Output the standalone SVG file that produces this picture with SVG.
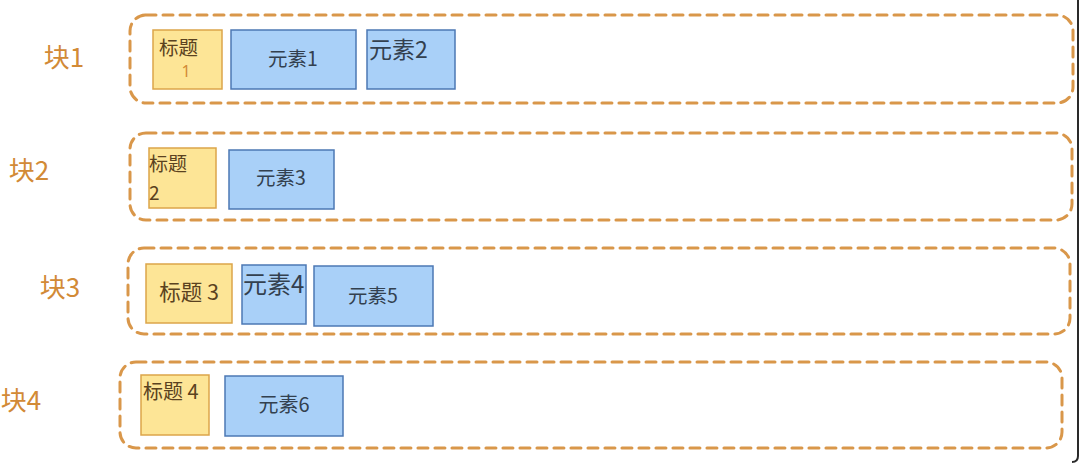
<svg xmlns="http://www.w3.org/2000/svg" width="1080" height="464" viewBox="0 0 1080 464">
<style>
.blk{fill:none;stroke:#d9974a;stroke-width:3;stroke-dasharray:10 7;stroke-linecap:round}
.lbl{font-family:"Noto Sans CJK SC","Noto Sans",sans-serif;font-size:26px;fill:#d28a36}
.ttl{fill:#fde596;stroke:#dca54a;stroke-width:1.5}
.el{fill:#a9d0f8;stroke:#4c78b4;stroke-width:1.5}
.t{font-family:"Noto Sans CJK SC","Noto Sans",sans-serif;fill:#33404f}
.tt{font-family:"Noto Sans CJK SC","Noto Sans",sans-serif;fill:#5a4220}
</style>
<rect width="1080" height="464" fill="#ffffff"/>
<path d="M1078,0 V456 Q1078,462 1072,462" fill="none" stroke="#2a2a2a" stroke-width="2"/>
<g id="block1">
<rect class="blk" x="130" y="15" width="943" height="88" rx="16"/>
<text class="lbl" x="64" y="67" text-anchor="middle">块1</text>
</g>
<g id="block2">
<rect class="blk" x="130" y="133" width="942" height="87" rx="16"/>
<text class="lbl" x="29" y="180" text-anchor="middle">块2</text>
</g>
<g id="block3">
<rect class="blk" x="128" y="248" width="942" height="86" rx="16"/>
<text class="lbl" x="60" y="297" text-anchor="middle">块3</text>
</g>
<g id="block4">
<rect class="blk" x="120" y="362" width="942" height="86" rx="16"/>
<text class="lbl" x="21" y="410" text-anchor="middle">块4</text>
</g>
<g id="title1">
<rect class="ttl" x="153" y="30" width="69" height="59"/>
<text class="tt" x="159" y="55" font-size="19.5">标题</text>
<text x="186" y="77" font-size="16" text-anchor="middle" font-family="Noto Sans,sans-serif" fill="#d28a36">1</text>
</g>
<g id="elem1">
<rect class="el" x="231" y="30" width="125" height="59"/>
<text class="t" x="293" y="66" font-size="19.5" text-anchor="middle">元素1</text>
</g>
<g id="elem2">
<rect class="el" x="367" y="30" width="88" height="59"/>
<text class="t" x="369" y="58" font-size="23">元素2</text>
</g>
<g id="title2">
<rect class="ttl" x="149" y="148" width="67" height="60"/>
<text class="tt" x="149" y="171" font-size="19">标题</text>
<text class="tt" x="149" y="200" font-size="19">2</text>
</g>
<g id="elem3">
<rect class="el" x="229" y="150" width="105" height="59"/>
<text class="t" x="281" y="185" font-size="19.5" text-anchor="middle">元素3</text>
</g>
<g id="title3">
<rect class="ttl" x="146" y="264" width="86" height="59"/>
<text class="tt" x="189" y="300" font-size="21.5" text-anchor="middle">标题 3</text>
</g>
<g id="elem4">
<rect class="el" x="242" y="265" width="64" height="59"/>
<text class="t" x="243" y="293" font-size="24">元素4</text>
</g>
<g id="elem5">
<rect class="el" x="314" y="266" width="119" height="60"/>
<text class="t" x="373" y="303" font-size="19.5" text-anchor="middle">元素5</text>
</g>
<g id="title4">
<rect class="ttl" x="141" y="375" width="68" height="60"/>
<text class="tt" x="143" y="399" font-size="20">标题 4</text>
</g>
<g id="elem6">
<rect class="el" x="225" y="376" width="118" height="60"/>
<text class="t" x="284" y="412" font-size="20" text-anchor="middle">元素6</text>
</g>
<g id="connectors"></g>
</svg>
